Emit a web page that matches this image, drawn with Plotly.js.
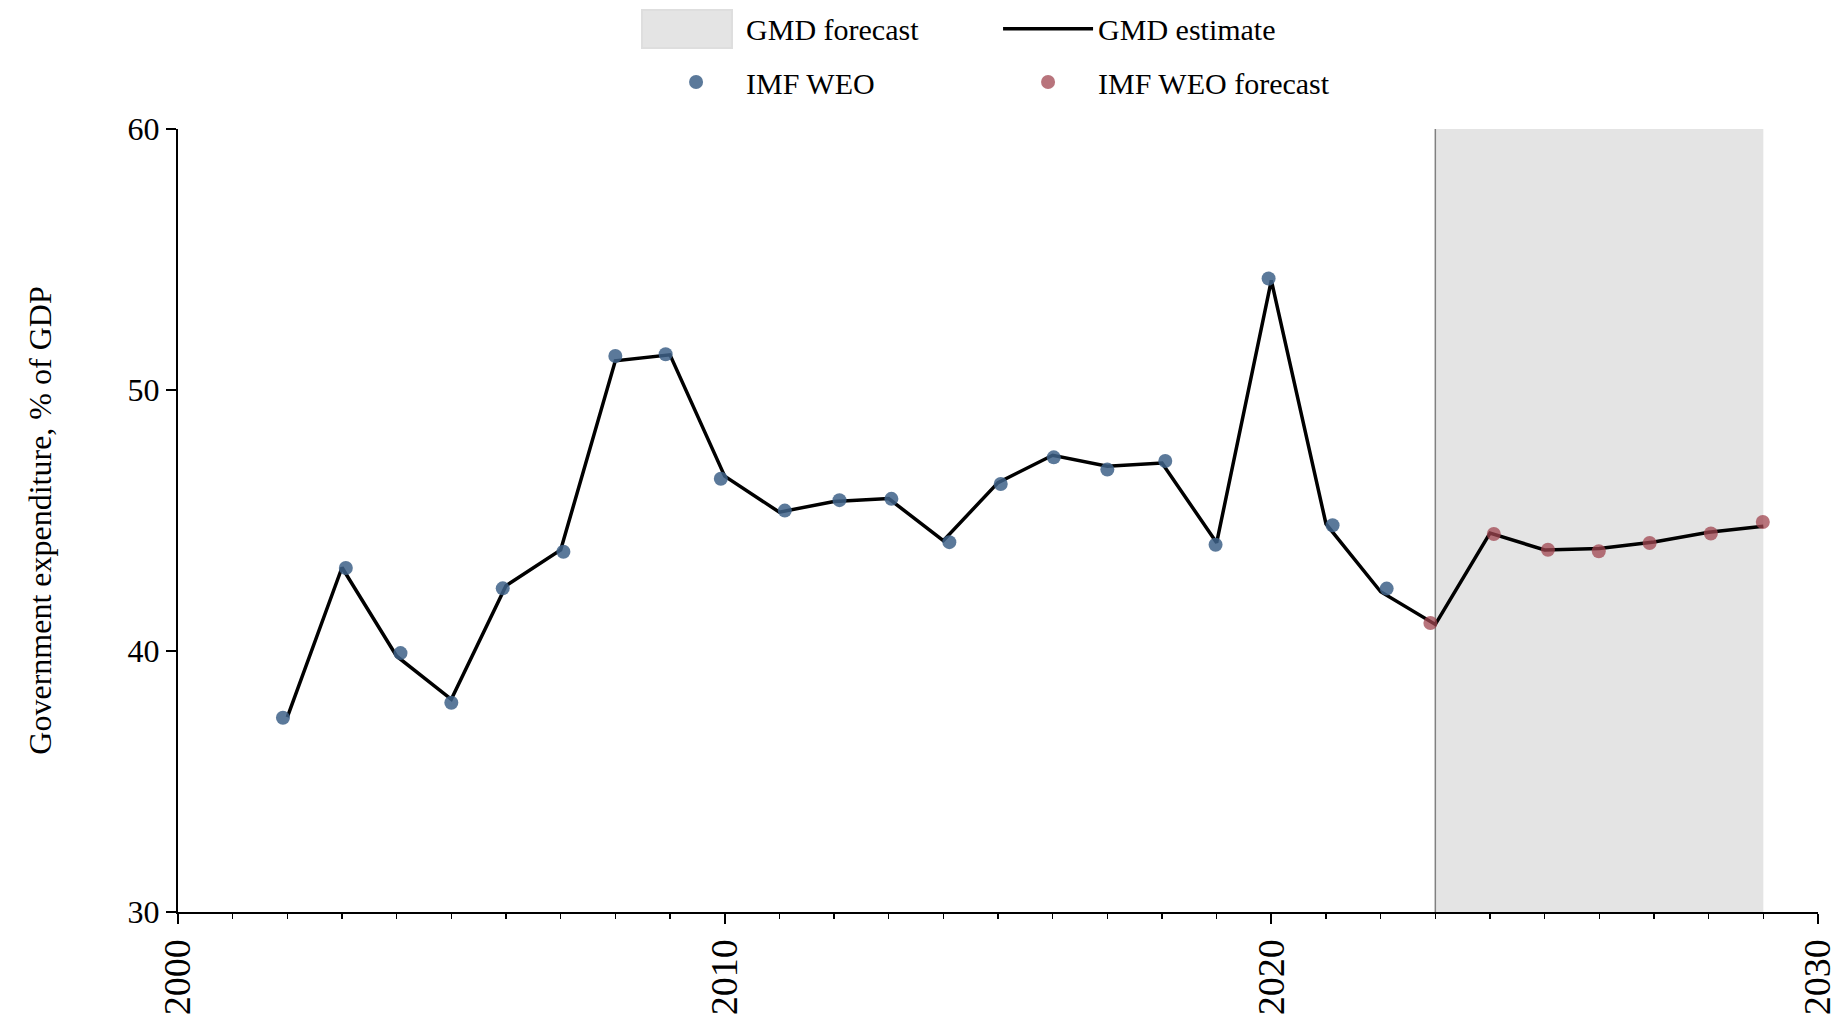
<!DOCTYPE html>
<html>
<head>
<meta charset="utf-8">
<script src="https://cdn.plot.ly/plotly-3.0.1.min.js"></script>
<style>html,body{margin:0;padding:0;background:#fff;}#chart{width:1842px;height:1020px;}</style>
</head>
<body>
<div id="chart"></div>
<script>
// GMD estimate (line), annual
const gmdYears = [2002,2003,2004,2005,2006,2007,2008,2009,2010,2011,2012,2013,2014,2015,2016,2017,2018,2019,2020,2021,2022,2023,2024,2025,2026,2027,2028,2029];
const gmdValues = [37.47,43.2,39.8,38.15,42.5,43.87,51.12,51.35,46.7,45.32,45.73,45.84,44.23,46.45,47.5,47.08,47.2,44.15,54.2,44.87,42.27,41.02,44.52,43.87,43.93,44.18,44.55,44.78];

// IMF WEO (historical) points
const imfYears = [2001.92,2003.07,2004.07,2005.0,2005.94,2007.05,2008.0,2008.92,2009.93,2011.1,2012.1,2013.05,2014.11,2015.05,2016.02,2017.0,2018.06,2018.98,2019.95,2021.12,2022.11];
const imfValues = [37.44,43.18,39.92,38.02,42.4,43.8,51.3,51.37,46.6,45.38,45.78,45.83,44.17,46.4,47.42,46.95,47.28,44.07,54.27,44.82,42.39];

// IMF WEO forecast points
const imfFcYears = [2022.91,2024.07,2025.06,2025.99,2026.92,2028.04,2028.99];
const imfFcValues = [41.07,44.48,43.88,43.82,44.14,44.5,44.94];

// GMD forecast period
const forecastStart = 2023;
const forecastEnd = 2029;

const xRange = [2000, 2030];
const yRange = [30, 60];
const yTicks = [30, 40, 50, 60];
const xTicks = [2000, 2010, 2020, 2030];

const serif = '"Liberation Serif", "Times New Roman", Times, serif';
const shadeColor = '#e4e4e4';

const traces = [
  {
    x: gmdYears, y: gmdValues, type: 'scatter', mode: 'lines',
    name: 'GMD estimate', legend: 'legend',
    line: {color: '#000000', width: 3.5}
  },
  {
    x: imfYears, y: imfValues, type: 'scatter', mode: 'markers',
    name: 'IMF WEO', legend: 'legend2',
    marker: {color: 'rgba(62,98,136,0.85)', size: 14, line: {width: 0}}
  },
  {
    x: imfFcYears, y: imfFcValues, type: 'scatter', mode: 'markers',
    name: 'IMF WEO forecast', legend: 'legend2',
    marker: {color: 'rgba(160,70,80,0.75)', size: 14, line: {width: 0}}
  }
];

const legendCommon = {
  orientation: 'h', xanchor: 'left', yanchor: 'middle',
  font: {family: serif, size: 30, color: '#000'},
  entrywidth: 247, entrywidthmode: 'pixels', itemwidth: 90,
  traceorder: 'normal', bgcolor: 'rgba(0,0,0,0)'
};

const layout = {
  width: 1842, height: 1020,
  margin: {l: 178, r: 24, t: 129, b: 108, pad: 0, autoexpand: false},
  paper_bgcolor: '#ffffff', plot_bgcolor: '#ffffff',
  font: {family: serif, color: '#000000', size: 30},
  showlegend: true,
  legend: Object.assign({}, legendCommon, {x: 0.2854, y: 1.128}),
  legend2: Object.assign({}, legendCommon, {x: 0.2854, y: 1.06}),
  xaxis: {
    range: xRange, tickvals: xTicks, ticktext: xTicks.map(String),
    tickangle: -90, ticks: 'outside', ticklen: 10, tickwidth: 2, tickcolor: '#000',
    minor: {dtick: 1, ticks: 'outside', ticklen: 5, tickwidth: 1.5, tickcolor: '#000', showgrid: false},
    showline: true, linecolor: '#000', linewidth: 2,
    showgrid: false, zeroline: false,
    tickfont: {family: serif, size: 38, color: '#000'}
  },
  yaxis: {
    range: yRange, tickvals: yTicks, ticktext: yTicks.map(String),
    ticks: 'outside', ticklen: 10, tickwidth: 2, tickcolor: '#000',
    showline: true, linecolor: '#000', linewidth: 2,
    showgrid: false, zeroline: false,
    tickfont: {family: serif, size: 32, color: '#000'},
    title: {text: 'Government expenditure, % of GDP', font: {family: serif, size: 32, color: '#000'}, standoff: 66}
  },
  shapes: [
    {
      type: 'rect', xref: 'x', yref: 'y', x0: forecastStart, x1: forecastEnd, y0: yRange[0], y1: yRange[1],
      fillcolor: shadeColor, line: {width: 0}, layer: 'below',
      showlegend: true, name: 'GMD forecast', legend: 'legend', legendrank: 1
    },
    {
      type: 'line', xref: 'x', yref: 'y', x0: forecastStart, x1: forecastStart, y0: yRange[0], y1: yRange[1],
      line: {width: 1.5, color: '#808080'}, layer: 'below'
    }
  ],
  annotations: [
    {
      // enlarged legend swatch for the shaded forecast period
      xref: 'paper', yref: 'paper', x: 0.3104, y: 1.1278, xanchor: 'center', yanchor: 'middle',
      text: ' ', showarrow: false, width: 88, height: 36,
      bgcolor: shadeColor, bordercolor: '#dedede', borderwidth: 2, borderpad: 0,
      font: {size: 10}
    }
  ]
};

Plotly.newPlot('chart', traces, layout, {displayModeBar: false, staticPlot: true});
</script>
</body>
</html>
